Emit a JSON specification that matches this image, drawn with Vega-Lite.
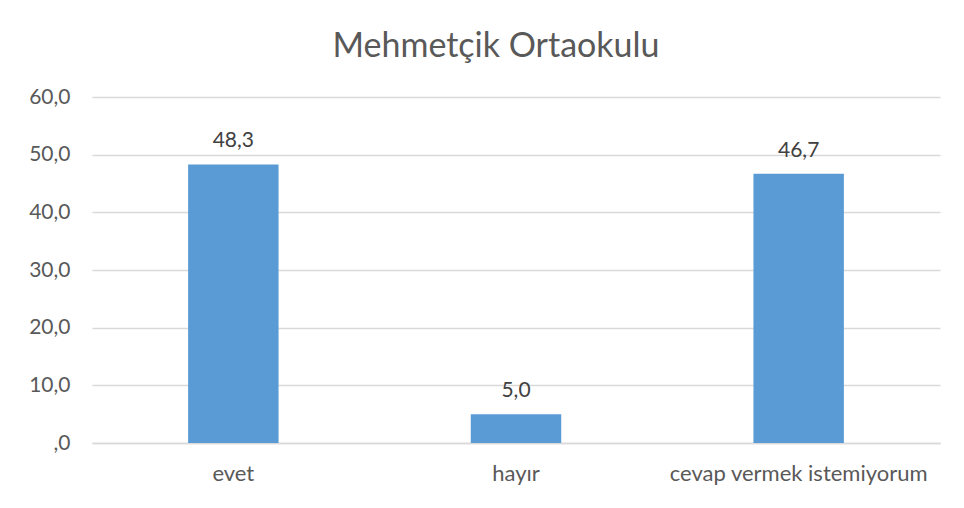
{
  "$schema": "https://vega.github.io/schema/vega-lite/v6.json",
  "width": 848,
  "height": 346,
  "autosize": {"type": "none"},
  "padding": {"left": 92, "top": 97, "right": 24, "bottom": 65},
  "background": "white",
  "config": {
    "locale": {"number": {"decimal": ",", "thousands": ".", "grouping": [3], "currency": ["", " ₺"]}},
    "view": {"stroke": null},
    "font": "Lato"
  },
  "title": {
    "text": "Mehmetçik Ortaokulu",
    "fontSize": 34,
    "font": "Lato",
    "fontWeight": "normal",
    "color": "#595959",
    "anchor": "middle",
    "dx": -20,
    "offset": 22
  },
  "data": {
    "values": [
      {"kategori": "evet", "deger": 48.3},
      {"kategori": "hayır", "deger": 5.0},
      {"kategori": "cevap vermek istemiyorum", "deger": 46.7}
    ]
  },
  "encoding": {
    "x": {
      "field": "kategori",
      "type": "nominal",
      "sort": null,
      "scale": {"paddingInner": 0.68, "paddingOuter": 0.34},
      "axis": {
        "title": null,
        "labelAngle": 0,
        "labelFontSize": 22,
        "labelLimit": 0,
        "labelColor": "#595959",
        "labelPadding": 20,
        "ticks": false,
        "domainColor": "#D9D9D9",
        "domainWidth": 1.5
      }
    },
    "y": {
      "field": "deger",
      "type": "quantitative",
      "scale": {"domain": [0, 60], "nice": false},
      "axis": {
        "title": null,
        "values": [0, 10, 20, 30, 40, 50, 60],
        "format": ".1f",
        "labelExpr": "datum.value == 0 ? ',0' : datum.label",
        "labelFontSize": 21,
        "labelColor": "#595959",
        "labelPadding": 22,
        "ticks": false,
        "domain": false,
        "gridColor": "#D9D9D9",
        "gridWidth": 1.5
      }
    }
  },
  "layer": [
    {"mark": {"type": "bar", "color": "#5B9BD5"}},
    {
      "mark": {"type": "text", "baseline": "bottom", "dy": -13, "fontSize": 21, "color": "#404040"},
      "encoding": {"text": {"field": "deger", "type": "quantitative", "format": ".1f"}}
    }
  ]
}
